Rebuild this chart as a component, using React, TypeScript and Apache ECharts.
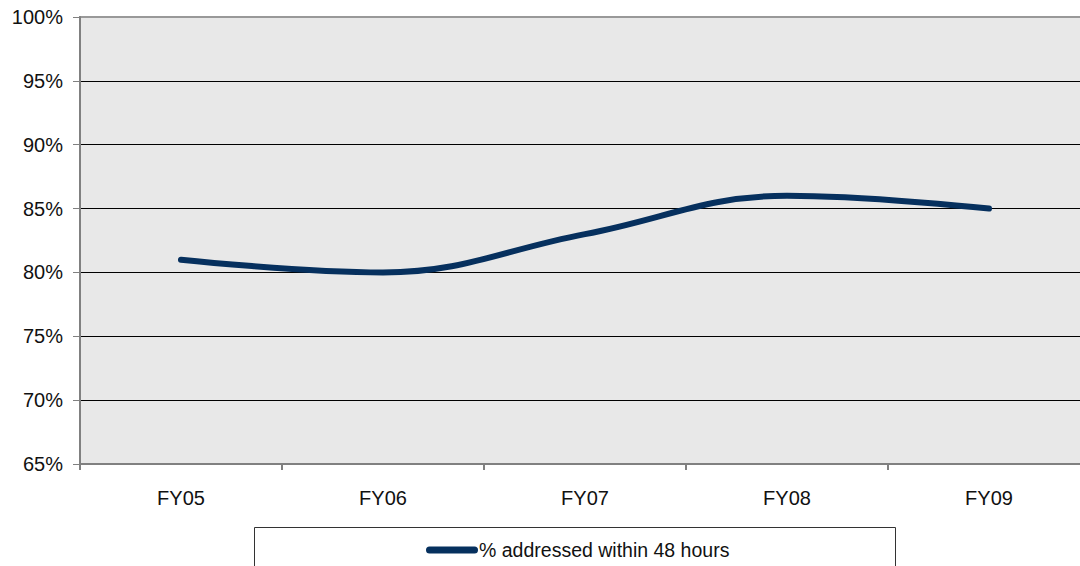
import React, { useEffect, useRef } from "react";
import * as echarts from "echarts";

const categories = ["FY05", "FY06", "FY07", "FY08", "FY09"];
const seriesName = "% addressed within 48 hours";
const values = [81, 80, 83, 86, 85];
const yMin = 65;
const yMax = 100;
const yStep = 5;

export default function App() {
  const ref = useRef<HTMLDivElement>(null);
  useEffect(() => {
    if (!ref.current) return;
    const chart = echarts.init(ref.current, undefined, { renderer: "svg" });
    chart.setOption({
      animation: false,
      textStyle: { fontFamily: "Liberation Sans, Arial, sans-serif" },
      grid: {
        left: 80,
        top: 17,
        right: 0,
        bottom: 102,
        show: true,
        backgroundColor: "#e8e8e8",
        borderColor: "#999999",
        borderWidth: 2,
      },
      xAxis: {
        type: "category",
        data: categories,
        boundaryGap: true,
        axisLine: { lineStyle: { color: "#808080", width: 2 } },
        axisTick: { show: true, length: 6, lineStyle: { color: "#808080", width: 2 } },
        axisLabel: { color: "#111", fontSize: 20, margin: 24 },
      },
      yAxis: {
        type: "value",
        min: yMin,
        max: yMax,
        interval: yStep,
        axisLine: { show: true, lineStyle: { color: "#808080", width: 2 } },
        axisTick: { show: true, length: 7, lineStyle: { color: "#808080", width: 1 } },
        axisLabel: { color: "#111", fontSize: 20, margin: 17, formatter: "{value}%" },
        splitLine: { show: true, showMinLine: false, showMaxLine: false, lineStyle: { color: "#000", width: 1 } },
      },
      legend: {
        show: true,
        left: 421,
        top: 535,
        itemWidth: 52,
        itemHeight: 7,
        itemGap: 10,
        icon: "path://M3.5,0 H48.5 A3.5,3.5 0 0 1 48.5,7 H3.5 A3.5,3.5 0 0 1 3.5,0 Z",
        textStyle: { fontSize: 19.5, color: "#111", fontFamily: "Liberation Sans Narrow, Arial Narrow, Liberation Sans, sans-serif", padding: [0, 0, 0, -4] },
        data: [seriesName],
      },
      graphic: [
        {
          type: "rect",
          shape: { x: 254.5, y: 527.5, width: 641, height: 60 },
          style: { fill: "#fff", stroke: "#333", lineWidth: 1 },
          z: -1,
        },
      ],
      series: [
        {
          name: seriesName,
          type: "line",
          data: values,
          smooth: 0.4,
          showSymbol: false,
          symbol: "none",
          lineStyle: { color: "#06305e", width: 6, cap: "round" },
          itemStyle: { color: "#06305e" },
        },
      ],
    });
    return () => chart.dispose();
  }, []);
  return (
    <div style={{ position: "fixed", left: 0, top: 0, width: 1080, height: 566, overflow: "hidden", background: "#fff" }}>
      <div ref={ref} style={{ width: 1090, height: 566 }} />
    </div>
  );
}
